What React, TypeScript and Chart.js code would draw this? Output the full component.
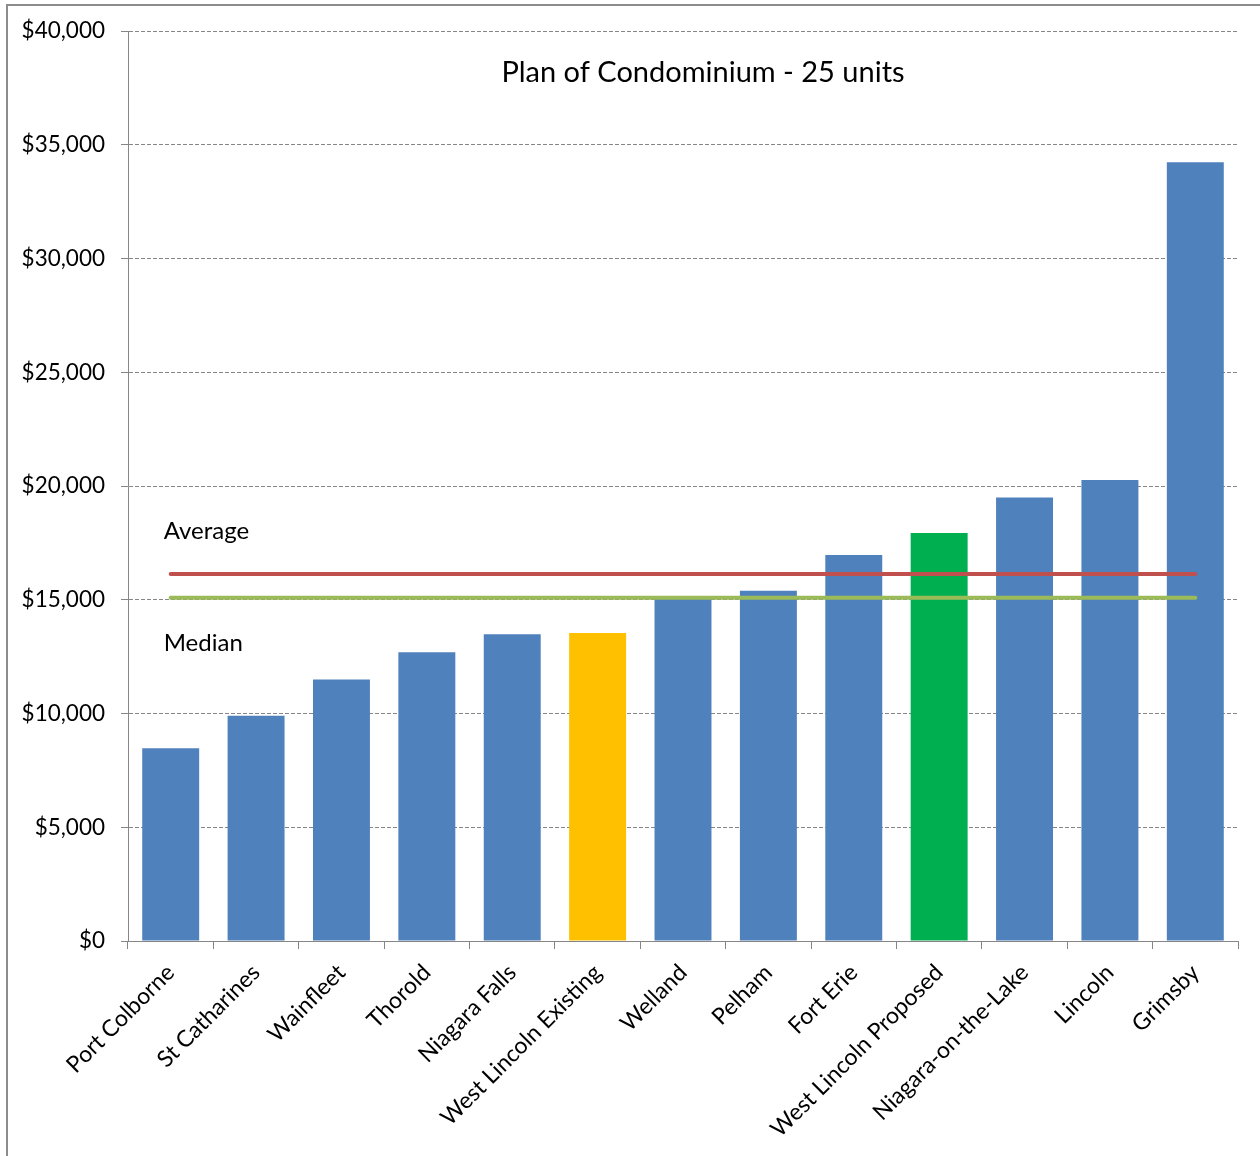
import React, { useEffect, useRef } from "react";
import { Chart, registerables } from "chart.js";

Chart.register(...registerables);

const CATEGORIES = [
  "Port Colborne",
  "St Catharines",
  "Wainfleet",
  "Thorold",
  "Niagara Falls",
  "West Lincoln Existing",
  "Welland",
  "Pelham",
  "Fort Erie",
  "West Lincoln Proposed",
  "Niagara-on-the-Lake",
  "Lincoln",
  "Grimsby",
];

const CHARGES = [8470, 9900, 11500, 12690, 13480, 13540, 15100, 15400, 16970, 17930, 19490, 20260, 34230];

const BAR_COLORS = [
  "#4F81BD", "#4F81BD", "#4F81BD", "#4F81BD", "#4F81BD",
  "#FFC000",
  "#4F81BD", "#4F81BD", "#4F81BD",
  "#00B050",
  "#4F81BD", "#4F81BD", "#4F81BD",
];

const AVERAGE_LINE = [16130, 16130, 16130, 16130, 16130, 16130, 16130, 16130, 16130, 16130, 16130, 16130, 16130];
const MEDIAN_LINE = [15090, 15090, 15090, 15090, 15090, 15090, 15090, 15090, 15090, 15090, 15090, 15090, 15090];

const Y_MIN = 0;
const Y_MAX = 40000;
const Y_STEP = 5000;

const TITLE = "Plan of Condominium - 25 units";
const AVERAGE_LABEL = "Average";
const MEDIAN_LABEL = "Median";
const AVERAGE_LABEL_VALUE = 18000;
const MEDIAN_LABEL_VALUE = 13100;

const FONT = "Lato, 'Open Sans', sans-serif";
const AXIS_GRAY = "#868686";

export default function App() {
  const canvasRef = useRef<HTMLCanvasElement | null>(null);

  useEffect(() => {
    const canvas = canvasRef.current;
    if (!canvas) return;

    const framePlugin = {
      id: "frame",
      beforeDraw(chart: any) {
        const ctx = chart.ctx;
        ctx.save();
        ctx.fillStyle = "#ffffff";
        ctx.fillRect(0, 0, chart.width, chart.height);
        ctx.strokeStyle = "#8c8c8c";
        ctx.lineWidth = 2;
        ctx.strokeRect(7, 5, chart.width + 40, chart.height + 40);
        ctx.restore();
      },
    };

    const annotationPlugin = {
      id: "annotationsText",
      afterDraw(chart: any) {
        const ctx = chart.ctx;
        const area = chart.chartArea;
        const xs = chart.scales.x;
        const ys = chart.scales.y;
        ctx.save();
        ctx.fillStyle = "#000000";
        ctx.textBaseline = "middle";
        ctx.textAlign = "center";
        ctx.font = `29px ${FONT}`;
        ctx.fillText(TITLE, (area.left + area.right) / 2 + 20, area.top + 42);
        ctx.textAlign = "left";
        ctx.font = `24px ${FONT}`;
        const x0 = xs.getPixelForValue(0) - 7;
        ctx.fillText(AVERAGE_LABEL, x0, ys.getPixelForValue(AVERAGE_LABEL_VALUE));
        ctx.fillText(MEDIAN_LABEL, x0, ys.getPixelForValue(MEDIAN_LABEL_VALUE));
        ctx.restore();
      },
    };

    const chart = new Chart(canvas, {
      type: "bar",
      data: {
        labels: CATEGORIES,
        datasets: [
          {
            type: "line",
            label: "Average",
            data: AVERAGE_LINE,
            borderColor: "#C0504D",
            borderWidth: 4,
            borderCapStyle: "round",
            pointRadius: 0,
            fill: false,
            order: 0,
          },
          {
            type: "line",
            label: "Median",
            data: MEDIAN_LINE,
            borderColor: "#9BBB59",
            borderWidth: 4,
            borderCapStyle: "round",
            pointRadius: 0,
            fill: false,
            order: 0,
          },
          {
            type: "bar",
            label: "Charges",
            data: CHARGES,
            backgroundColor: BAR_COLORS,
            borderWidth: 0,
            barPercentage: 0.667,
            categoryPercentage: 1,
            order: 1,
          },
        ],
      } as any,
      options: {
        responsive: false,
        animation: false,
        layout: { padding: { left: 0, right: 22, top: 31, bottom: 0 } },
        plugins: {
          legend: { display: false },
          tooltip: { enabled: false },
          title: { display: false },
        },
        scales: {
          x: {
            offset: true,
            grid: {
              offset: true,
              drawOnChartArea: false,
              drawTicks: true,
              tickLength: 8,
              color: AXIS_GRAY,
            },
            border: { display: true, color: AXIS_GRAY, width: 1 },
            ticks: {
              autoSkip: false,
              maxRotation: 45,
              minRotation: 45,
              color: "#000000",
              font: { family: FONT, size: 23 },
              padding: 10,
            },
            afterFit(scale: any) {
              scale.height = 215;
            },
          },
          y: {
            min: Y_MIN,
            max: Y_MAX,
            grid: {
              color: AXIS_GRAY,
              drawTicks: true,
              tickLength: 7,
              tickColor: AXIS_GRAY,
            },
            border: { display: true, color: AXIS_GRAY, width: 1, dash: [4, 2] },
            ticks: {
              stepSize: Y_STEP,
              color: "#000000",
              font: { family: FONT, size: 22.5 },
              padding: 16,
              callback: (v: any) => "$" + Number(v).toLocaleString("en-US"),
            },
            afterFit(scale: any) {
              scale.width = 128;
            },
          },
        },
      } as any,
      plugins: [framePlugin, annotationPlugin],
    });

    return () => chart.destroy();
  }, []);

  return (
    <div style={{ position: "absolute", left: 0, top: 0, width: 1260, height: 1156 }}>
      <canvas ref={canvasRef} width={1260} height={1156} style={{ display: "block" }} />
    </div>
  );
}
